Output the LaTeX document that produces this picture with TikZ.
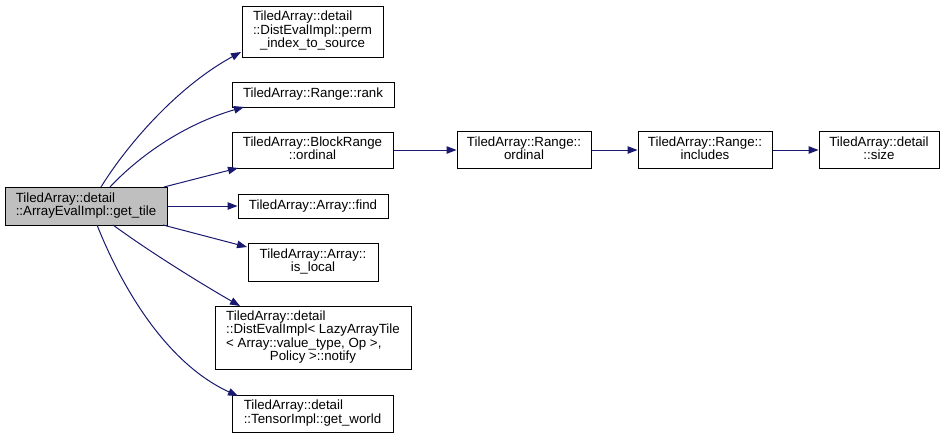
\documentclass[tikz,border=0pt]{standalone}
\usepackage{fontspec}
\setmainfont{Liberation Sans}
\usetikzlibrary{arrows.meta}
\definecolor{edgeblue}{HTML}{191970}
\definecolor{curfill}{HTML}{BFBFBF}
\newcommand\dxl[2]{\begin{tabular}{@{}l@{}}#1\\\multicolumn{1}{@{}c@{}}{#2}\end{tabular}}
\tikzset{
  fnbox/.style={draw=black, line width=1pt, fill=white, inner sep=0pt, align=center,
    font=\fontsize{13.3}{12.7}\selectfont},
  curbox/.style={fnbox, fill=curfill},
  call/.style={draw=edgeblue, line width=1pt, -{Triangle[length=10pt,width=7.5pt]}, fill=none},
}
\begin{document}
\begin{tikzpicture}[x=1pt,y=-1pt]
\useasboundingbox (0,0) rectangle (952,439);
\fill[white] (0,0) rectangle (952,439);
\node[curbox, minimum width=162pt, minimum height=38pt] (main) at (86,206) {\dxl{TiledArray::detail}{::ArrayEvalImpl::get\_tile}};
\node[fnbox, minimum width=141pt, minimum height=51pt] (perm) at (312.5,31.5) {\begin{tabular}{@{}l@{}}TiledArray::detail\\::DistEvalImpl::perm\\\multicolumn{1}{@{}c@{}}{\_index\_to\_source}\end{tabular}};
\node[fnbox, minimum width=162pt, minimum height=25pt] (rank) at (313,94.5) {TiledArray::Range::rank};
\node[fnbox, minimum width=161pt, minimum height=36pt] (block) at (312.5,150) {\dxl{TiledArray::BlockRange}{::ordinal}};
\node[fnbox, minimum width=150pt, minimum height=24pt] (find) at (313,206) {TiledArray::Array::find};
\node[fnbox, minimum width=130pt, minimum height=38pt] (isloc) at (313,262) {\dxl{TiledArray::Array::}{is\_local}};
\node[fnbox, minimum width=196pt, minimum height=63pt] (notify) at (313,337.5) {\begin{tabular}{@{}l@{}}TiledArray::detail\\::DistEvalImpl< LazyArrayTile\\< Array::value\_type, Op >,\\\multicolumn{1}{@{}c@{}}{Policy >::notify}\end{tabular}};
\node[fnbox, minimum width=161pt, minimum height=37pt] (world) at (312.5,413.5) {\dxl{TiledArray::detail}{::TensorImpl::get\_world}};
\node[fnbox, minimum width=134pt, minimum height=37pt] (rord) at (524,150) {\dxl{TiledArray::Range::}{ordinal}};
\node[fnbox, minimum width=134pt, minimum height=37pt] (incl) at (705,150) {\dxl{TiledArray::Range::}{includes}};
\node[fnbox, minimum width=120pt, minimum height=37pt] (size) at (879,150) {\dxl{TiledArray::detail}{::size}};

\coordinate (m1) at (101,187);
\coordinate (m2) at (110,187);
\coordinate (m3) at (164,187);
\coordinate (m5) at (163,225);
\coordinate (m6) at (113,225);
\coordinate (m7) at (97,225);
\coordinate (t1) at (241,52);
\coordinate (t2) at (244,107);
\coordinate (t3) at (238,168);
\coordinate (t5) at (247,247);
\coordinate (t6) at (240,306);
\coordinate (t7) at (238,396);

\draw[call] (m1) .. controls (125,148) and (175,88) .. (t1);
\draw[call] (m2) .. controls (140,155) and (185,124) .. (t2);
\draw[call] (m3) -- (t3);
\draw[call] (main.east) -- (find.west);
\draw[call] (m5) -- (t5);
\draw[call] (m6) .. controls (150,252) and (200,283) .. (t6);
\draw[call] (m7) .. controls (125,295) and (170,365) .. (t7);
\draw[call] (block.east) -- (rord.west);
\draw[call] (rord.east) -- (incl.west);
\draw[call] (incl.east) -- (size.west);
\end{tikzpicture}
\end{document}
